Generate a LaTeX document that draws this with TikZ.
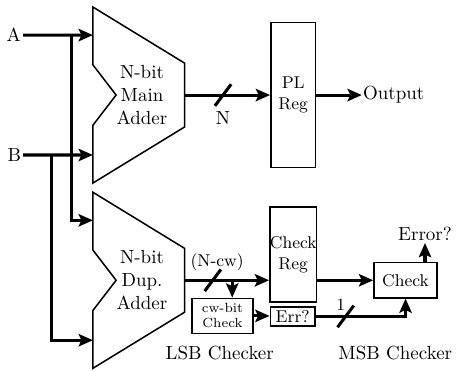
\documentclass[tikz,border=0pt]{standalone}
\usepackage{amsmath}
\usepackage{tikz}
\usetikzlibrary{positioning,arrows.meta,calc}

\begin{document}
\begin{tikzpicture}[
  font=\normalsize,
  blk/.style={draw,line width=0.8pt,inner sep=0pt,align=center,font=\small},
  adder/.style={draw,line width=0.8pt,line join=miter},
  wire/.style={line width=1.6pt},
  ar/.style={wire,-{Stealth[length=7.5pt,width=6.5pt,inset=1.5pt]}},
  lbl/.style={inner sep=1pt,align=center},
]
\useasboundingbox (0,0) rectangle (8.444,-6.870);
% adders
\coordinate (ma) at (1.72,-1.76);
\coordinate (da) at (1.72,-5.19);
\draw[adder] (ma) ++(0,1.63) -- ++(1.70,-1.04) -- ++(0,-1.18) -- ++(-1.70,-1.04)
  -- ++(0,1.07) -- ++(0.43,0.56) -- ++(-0.43,0.56) -- cycle;
\draw[adder] (da) ++(0,1.63) -- ++(1.70,-1.04) -- ++(0,-1.18) -- ++(-1.70,-1.04)
  -- ++(0,1.07) -- ++(0.43,0.56) -- ++(-0.43,0.56) -- cycle;
\node[lbl] (ma-txt) at ($(ma)+(0.91,0)$) {N-bit\\Main\\Adder};
\node[lbl] (da-txt) at ($(da)+(0.91,0)$) {N-bit\\Dup.\\Adder};
\coordinate (ma-in1) at ($(ma)+(0,1.11)$);
\coordinate (ma-in2) at ($(ma)+(0,-1.11)$);
\coordinate (da-in1) at ($(da)+(0,1.11)$);
\coordinate (da-in2) at ($(da)+(0,-1.11)$);
\coordinate (ma-out) at ($(ma)+(1.70,0)$);
\coordinate (da-out) at ($(da)+(1.70,0)$);
% inputs
\node[lbl,anchor=east] (A) at (0.43,-0.65) {A};
\node[lbl,anchor=east] (B) at (0.43,-2.87) {B};
\coordinate (ja) at (1.33,-0.65);
\coordinate (jb) at (0.96,-2.87);
\draw[ar] (A.east) -- (ma-in1);
\draw[ar] (B.east) -- (ma-in2);
\draw[ar] (ja) |- (da-in1);
\draw[ar] (jb) |- (da-in2);
% registers and checkers
\node[blk,minimum width=0.83cm,minimum height=2.69cm] (pl) at (5.43,-1.76) {PL\\Reg};
\node[blk,minimum width=0.83cm,minimum height=1.76cm] (cr) at (5.43,-4.71) {Check\\Reg};
\node[blk,font=\scriptsize,minimum width=1.13cm,minimum height=0.65cm] (cw) at (4.12,-5.85) {cw-bit\\Check};
\node[blk,minimum width=0.83cm,minimum height=0.35cm] (err) at (5.42,-5.86) {Err?};
\node[blk,minimum width=1.17cm,minimum height=0.65cm] (ck) at (7.51,-5.19) {Check};
\node[lbl,anchor=west,inner sep=0.5pt] (out) at (6.70,-1.76) {Output};
\node[lbl,anchor=south] (errq) at (7.87,-4.50) {Error?};
% main path
\draw[ar] (ma-out) -- (ma-out -| pl.west);
\coordinate (s1) at (4.13,-1.76);
\draw[wire] ($(s1)+(-0.15,-0.2)$) -- ($(s1)+(0.15,0.2)$);
\node[lbl] (nl) at (4.13,-2.19) {N};
\draw[ar] (pl.east |- ma-out) -- (out.west);
% duplicate path
\draw[ar] (da-out) -- (da-out -| cr.west);
\coordinate (s2) at (3.94,-5.19);
\draw[wire] ($(s2)+(-0.15,-0.2)$) -- ($(s2)+(0.15,0.2)$);
\node[lbl,font=\small] (ncw) at (4.02,-4.85) {(N-cw)};
\coordinate (br) at (4.30,-5.19);
\draw[ar] (br) -- (br |- cw.north);
\draw[ar] (cw.east) -- (cw.east -| err.west);
\draw[ar] (err.east) -| (ck.south);
\coordinate (s3) at (6.40,-5.86);
\draw[wire] ($(s3)+(-0.15,-0.2)$) -- ($(s3)+(0.15,0.2)$);
\node[lbl,font=\small] (one) at (6.31,-5.65) {1};
\draw[ar] (cr.east |- da-out) -- (ck.west);
\draw[ar] (ck.north -| errq.south) -- (errq.south);
% group labels
\node[lbl] (lsb) at (4.07,-6.54) {LSB Checker};
\node[lbl] (msb) at (7.32,-6.54) {MSB Checker};
\end{tikzpicture}
\end{document}
